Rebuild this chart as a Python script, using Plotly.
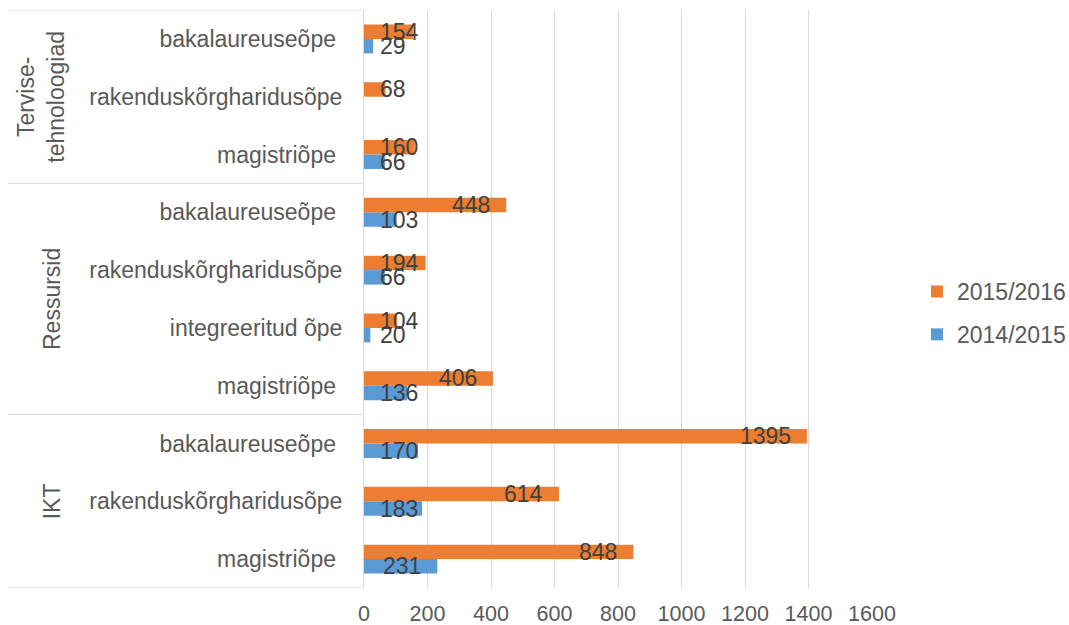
import plotly.graph_objects as go

# Study-level breakdown per field, listed bottom to top
group_names = ["IKT", "Ressursid", "Tervise-<br>tehnoloogiad"]
programmes = [
    ["magistriõpe\u00a0", "rakenduskõrgharidusõpe", "bakalaureuseõpe\u00a0"],
    ["magistriõpe\u00a0", "integreeritud õpe", "rakenduskõrgharidusõpe", "bakalaureuseõpe\u00a0"],
    ["magistriõpe\u00a0", "rakenduskõrgharidusõpe", "bakalaureuseõpe\u00a0"],
]
series_names = ["2014/2015", "2015/2016"]
values_2014_2015 = [231, 183, 170, 136, 20, 66, 103, 66, None, 29]
values_2015_2016 = [848, 614, 1395, 406, 104, 194, 448, 160, 68, 154]
x_ticks = [0, 200, 400, 600, 800, 1000, 1200, 1400, 1600]

colors = {"2014/2015": "#5B9BD5", "2015/2016": "#ED7D31"}
legend_rank = {"2015/2016": 1, "2014/2015": 2}
TEXT = "#595959"
LABEL = "#404040"
GRID = "#D9D9D9"
FONT = "Liberation Sans, Arial, sans-serif"

tick_text = [p for grp in programmes for p in grp]
pos = list(range(len(tick_text)))

# group boundaries on the category axis
bounds = [-0.5]
centers = []
start = 0
for grp in programmes:
    centers.append(start + (len(grp) - 1) / 2)
    start += len(grp)
    bounds.append(start - 0.5)

W, H = 1069, 625
ML, MR, MT, MB = 364, 197, 10, 37
plot_w = W - ML - MR
plot_h = H - MT - MB
x_max = x_ticks[-1]
px_per_unit = plot_w / x_max

fig = go.Figure()
series = [("2014/2015", values_2014_2015), ("2015/2016", values_2015_2016)]
for name, vals in series:
    fig.add_trace(go.Bar(
        y=pos, x=vals, name=name, orientation="h",
        marker=dict(color=colors[name], line=dict(width=0)),
        legendgroup=name, legendrank=legend_rank[name], hoverinfo="skip",
    ))

# data labels at the inner end of each bar
label_size = 23
digit_w = 0.556 * label_size
annotations = []
bar_w = 0.25
for k, (name, vals) in enumerate(series):
    offset = (k - 0.5) * bar_w
    for i, v in enumerate(vals):
        if v is None:
            continue
        txt = str(v)
        w = len(txt) * digit_w
        if v * px_per_unit - 15 - w < 15:
            ann = dict(x=0, xanchor="left", xshift=15)
        else:
            ann = dict(x=v, xanchor="right", xshift=-15)
        ann.update(
            y=pos[i] + offset, yanchor="middle", xref="x", yref="y",
            text=txt, showarrow=False, borderpad=0,
            font=dict(family=FONT, size=label_size, color=LABEL),
        )
        annotations.append(ann)

# rotated group labels
for gname, c in zip(group_names, centers):
    xpx = 41 if "<br>" in gname else 52
    annotations.append(dict(
        x=(xpx - ML) / plot_w, xref="paper", y=c, yref="y",
        xanchor="center", yanchor="middle", textangle=-90,
        text=gname, showarrow=False,
        font=dict(family=FONT, size=23, color=TEXT),
    ))

shapes = []
for b in bounds:
    shapes.append(dict(
        type="line", xref="paper", yref="y",
        x0=(8 - ML) / plot_w, x1=-0.003, y0=b, y1=b,
        line=dict(color=GRID, width=1),
    ))

fig.update_layout(
    width=W, height=H,
    margin=dict(l=ML, r=MR, t=MT, b=MB, autoexpand=False),
    paper_bgcolor="white", plot_bgcolor="white",
    barmode="group", bargap=0.5, bargroupgap=0,
    font=dict(family=FONT, color=TEXT),
    xaxis=dict(
        range=[0, x_max], tickvals=x_ticks,
        showgrid=True, gridcolor=GRID, gridwidth=1,
        zeroline=False, showline=False, ticks="",
        tickfont=dict(family=FONT, size=21.5, color=TEXT),
        ticklabelstandoff=10, fixedrange=True, automargin=False,
    ),
    yaxis=dict(
        range=[bounds[0], bounds[-1]], tickvals=pos, ticktext=tick_text,
        showgrid=False, zeroline=False, showline=True,
        linecolor=GRID, linewidth=1, ticks="",
        tickfont=dict(family=FONT, size=23, color=TEXT),
        ticklabelstandoff=16, fixedrange=True, automargin=False,
    ),
    legend=dict(
        x=(917 - ML) / plot_w, xanchor="left",
        y=1 - (313 - MT) / plot_h, yanchor="middle",
        traceorder="grouped", tracegroupgap=10,
        font=dict(family=FONT, size=23, color=TEXT),
        itemwidth=30, bgcolor="rgba(0,0,0,0)",
    ),
    annotations=annotations,
    shapes=shapes,
    showlegend=True,
)

fig.write_html("out.html")
